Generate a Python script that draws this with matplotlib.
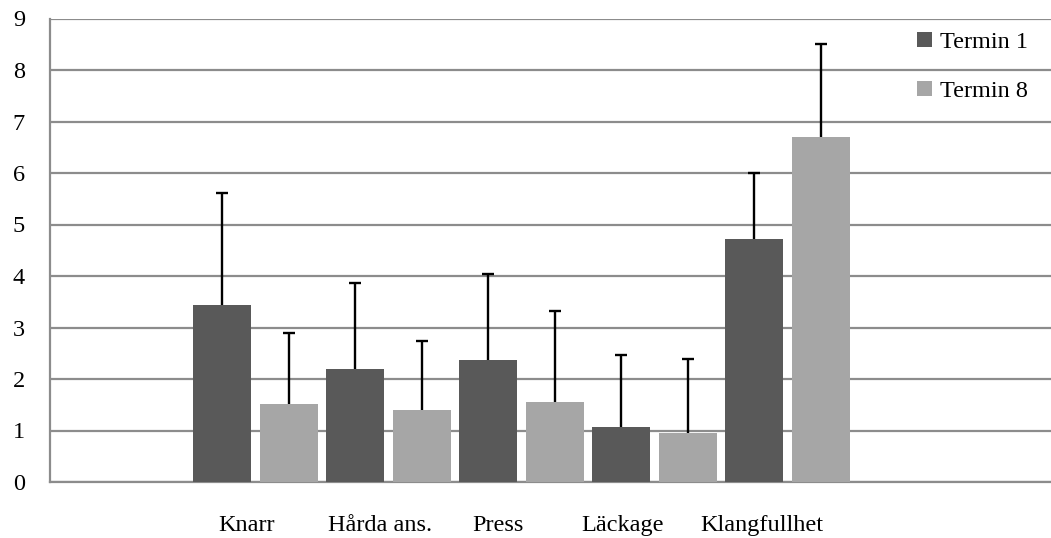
import matplotlib
matplotlib.use("Agg")
import matplotlib.pyplot as plt
import numpy as np

categories = ["Knarr", "Hårda ans.", "Press", "Läckage", "Klangfullhet"]
termin1 = [3.44, 2.19, 2.37, 1.07, 4.72]
termin8 = [1.51, 1.40, 1.55, 0.95, 6.70]
termin1_err = [2.17, 1.67, 1.67, 1.40, 1.28]
termin8_err = [1.39, 1.34, 1.78, 1.44, 1.80]
yticks = list(range(0, 10))

# layout (positions of category labels along the bar sequence)
label_pos = [0.36, 2.37, 4.15, 6.02, 8.11]

W, H = 1051, 538
fig = plt.figure(figsize=(W / 100, H / 100), dpi=100)
ax = fig.add_axes([50 / W, 56 / H, (W - 50) / W, (482 - 18.5) / H])

plt.rcParams['font.family'] = ['Liberation Serif', 'DejaVu Serif']
fs = 17.5

n = len(categories)
x1 = np.arange(n) * 2
x8 = np.arange(n) * 2 + 1
bw = 0.87
dark = "#595959"
light = "#a6a6a6"

err_kw = dict(ecolor="black", elinewidth=1.7, capsize=4.3, capthick=1.7)
b1 = ax.bar(x1, termin1, width=bw, color=dark, label="Termin 1", zorder=3,
            yerr=[np.zeros(n), termin1_err], error_kw=err_kw)
b8 = ax.bar(x8, termin8, width=bw, color=light, label="Termin 8", zorder=3,
            yerr=[np.zeros(n), termin8_err], error_kw=err_kw)
# only the upper cap is shown
for bc in (b1, b8):
    caps = bc.errorbar.lines[1]
    if len(caps) > 1:
        caps[0].set_visible(False)

ax.set_xlim(-2.59, 12.46)
ax.set_ylim(0, 9)
ax.set_yticks(yticks)
ax.set_yticklabels([str(v) for v in yticks], fontsize=fs, family='Liberation Serif')
ax.set_xticks(label_pos)
ax.set_xticklabels(categories, fontsize=fs, family='Liberation Serif')
ax.tick_params(axis='y', length=0, pad=18)
ax.tick_params(axis='x', length=0, pad=24)

ax.set_axisbelow(True)
ax.grid(axis='y', color="#8c8c8c", linewidth=1.6)
for s in ["top", "right"]:
    ax.spines[s].set_visible(False)
ax.spines["left"].set_color("#8c8c8c")
ax.spines["left"].set_linewidth(1.6)
ax.spines["bottom"].set_color("#8c8c8c")
ax.spines["bottom"].set_linewidth(1.6)

leg = fig.legend(loc="upper left", bbox_to_anchor=(917 / W, 1 - 32 / H),
                 frameon=False, prop={'family': 'Liberation Serif', 'size': fs},
                 handlelength=0.6, handleheight=0.6, handletextpad=0.33,
                 labelspacing=1.12, borderpad=0, borderaxespad=0)

fig.savefig("out.png", dpi=100)
